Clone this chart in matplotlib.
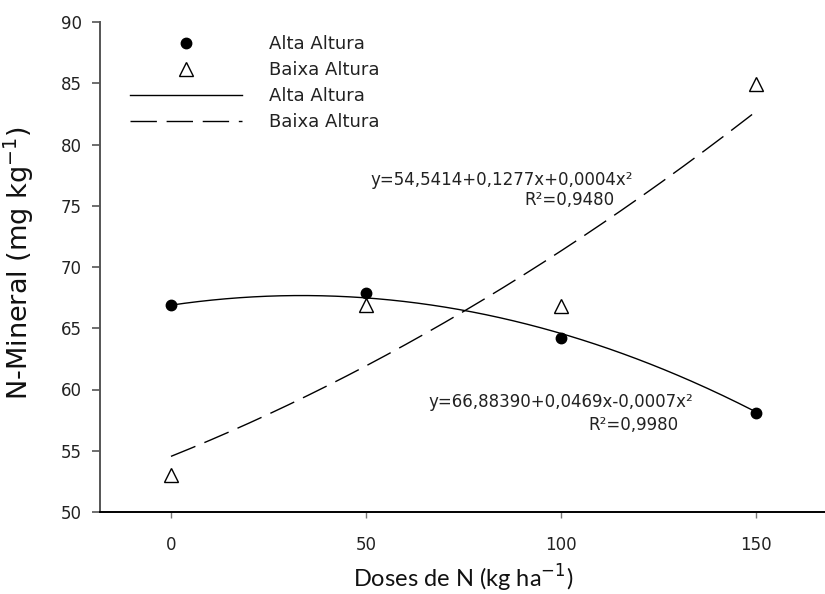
import numpy as np
import matplotlib
matplotlib.use("Agg")
import matplotlib.pyplot as plt
from matplotlib.lines import Line2D

# Observed means
doses = [0, 50, 100, 150]
alta = [66.9, 67.85, 64.2, 58.1]
baixa = [53.0, 66.9, 66.8, 84.9]

# Fitted quadratic coefficients (a + b*x + c*x^2)
alta_coef = [66.88390, 0.0469, -0.0007]
baixa_coef = [54.5414, 0.1277, 0.0004]

alta_eq = "y=66,88390+0,0469x-0,0007x²"
alta_r2 = "R²=0,9980"
baixa_eq = "y=54,5414+0,1277x+0,0004x²"
baixa_r2 = "R²=0,9480"

legend_labels = ["Alta Altura", "Baixa Altura", "Alta Altura", "Baixa Altura"]
xticks = [0, 50, 100, 150]
yticks = [50, 55, 60, 65, 70, 75, 80, 85, 90]

plt.rcParams["font.family"] = "DejaVu Sans"

W, H = 825, 594
fig = plt.figure(figsize=(W / 100, H / 100), dpi=100)
ax = fig.add_axes([100 / W, 1 - 512 / H, (825 - 100) / W, 490 / H])

xs = np.linspace(0, 150, 300)
fit_a = alta_coef[0] + alta_coef[1] * xs + alta_coef[2] * xs ** 2
fit_b = baixa_coef[0] + baixa_coef[1] * xs + baixa_coef[2] * xs ** 2

dash = (0, (19, 7))
ax.plot(xs, fit_a, color="black", lw=1.0, solid_capstyle="butt")
ax.plot(xs, fit_b, color="black", lw=1.0, linestyle=dash)
ax.plot(doses, alta, linestyle="none", marker="o", ms=7.5,
        color="black", mec="black")
ax.plot(doses, baixa, linestyle="none", marker="^", ms=9.5,
        mfc="white", mec="black", mew=1.0)

ax.set_xlim(-18.2, 167.7)
ax.set_ylim(50, 90)
ax.set_xticks(xticks)
ax.set_yticks(yticks)

for s in ("top", "right"):
    ax.spines[s].set_visible(False)
ax.spines["left"].set_color("#555555")
ax.spines["left"].set_linewidth(1.4)
ax.spines["bottom"].set_color("black")
ax.spines["bottom"].set_linewidth(1.4)

ax.tick_params(axis="y", direction="out", length=6, width=1.2,
               color="#555555", labelsize=12, pad=7, labelcolor="#222222")
ax.tick_params(axis="x", direction="out", length=4.5, width=1.0,
               color="#777777", labelsize=12, pad=13, labelcolor="#222222")

ax.set_ylabel("N-Mineral (mg kg$^{-1}$)", fontsize=19.5, color="#111111")
ax.yaxis.set_label_coords(-(100 - 36) / 725, (512 - 263) / 490)
ax.set_xlabel("Doses de N (kg ha$^{-1}$)", fontsize=17, family="Lato",
              color="#111111")
ax.xaxis.set_label_coords((463 - 100) / 725, -(563 - 512) / 490)

# Equation annotations, positioned in pixel space of the axes
def px(x, y):
    return ((x - 100) / 725, (512 - y) / 490)

kw = dict(transform=ax.transAxes, fontsize=12, color="#222222",
          va="center", ha="right")
ax.text(*px(633, 180), baixa_eq, **kw)
ax.text(*px(615, 200), baixa_r2, **kw)
ax.text(*px(693, 402), alta_eq, **kw)
ax.text(*px(678, 425), alta_r2, **kw)

handles = [
    Line2D([], [], linestyle="none", marker="o", ms=7.5, color="black"),
    Line2D([], [], linestyle="none", marker="^", ms=9.5, mfc="white",
           mec="black", mew=1.0),
    Line2D([], [], color="black", lw=1.0),
    Line2D([], [], color="black", lw=1.0, linestyle=dash),
]
fig.legend(handles, legend_labels, loc="upper left",
           bbox_to_anchor=(130 / W, 1 - 35 / H), frameon=False,
           fontsize=13, handlelength=6.2, handletextpad=1.5,
           labelspacing=0.45, borderpad=0, borderaxespad=0,
           labelcolor="#222222")

fig.savefig("out.png", dpi=100)
